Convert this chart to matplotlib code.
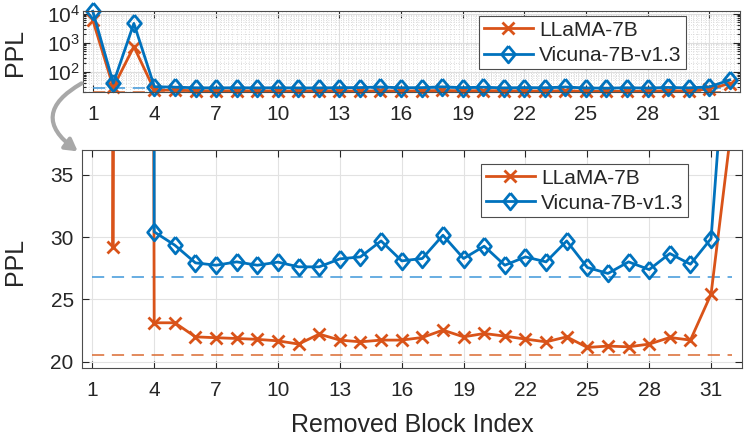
import numpy as np
import matplotlib
matplotlib.use("Agg")
import matplotlib.pyplot as plt
from matplotlib.ticker import MultipleLocator, LogLocator, FixedLocator, NullFormatter
from matplotlib.patches import FancyArrowPatch

plt.rcParams['font.family'] = ['Liberation Sans', 'DejaVu Sans']
plt.rcParams['mathtext.fontset'] = 'custom'
plt.rcParams['mathtext.rm'] = 'Liberation Sans'
plt.rcParams['text.color'] = '#262626'

# ---------------------------------------------- data
blocks = list(range(1, 33))
llama = [6000, 29.2, 730, 23.13, 23.13, 22.0, 21.93, 21.87, 21.8, 21.68, 21.42,
         22.22, 21.74, 21.6, 21.74, 21.74, 21.95, 22.54, 22.0, 22.27, 22.06,
         21.82, 21.6, 22.0, 21.15, 21.26, 21.2, 21.42, 21.95, 21.74, 25.43, 39]
vicuna = [12000, 40, 4600, 30.43, 29.36, 27.94, 27.75, 28.02, 27.75, 28.0, 27.62,
          27.62, 28.26, 28.42, 29.7, 28.1, 28.29, 30.16, 28.29, 29.28, 27.75,
          28.42, 28.02, 29.7, 27.57, 27.09, 28.02, 27.4, 28.69, 27.83, 29.89, 52]
llama_base = 20.53
vicuna_base = 26.82
names = ["LLaMA-7B", "Vicuna-7B-v1.3"]
xticks = list(range(1, 33, 3))

c_llama = '#D95319'
c_vicuna = '#0072BD'
c_llama_d = '#DA6A30'
c_vicuna_d = '#3E97DA'
ink = '#262626'
# matlab style diamond, a bit taller than wide
diamond = [(0, 1), (0.82, 0), (0, -1), (-0.82, 0), (0, 1)]

W, H = 747, 438
fig = plt.figure(figsize=(W / 100, H / 100), dpi=100)
ax1 = fig.add_axes([82.5 / W, 1 - 92 / H, (740 - 82.5) / W, (92 - 10.7) / H])
ax2 = fig.add_axes([82 / W, 1 - 368 / H, (742 - 82) / W, (368 - 150) / H])


def style(ax):
    for s in ax.spines.values():
        s.set_color('#4d4d4d')
        s.set_linewidth(0.8)
    ax.tick_params(which='both', direction='in', top=True, right=True,
                   colors=ink, labelsize=15, width=0.8)
    ax.tick_params(which='major', length=5)
    ax.tick_params(which='minor', length=2.5)
    ax.tick_params(axis='x', pad=9)
    ax.set_xlim(0.5, 32.5)
    ax.xaxis.set_major_locator(FixedLocator(xticks))
    ax.set_axisbelow(True)


def add_legend(ax, top):
    leg = ax.legend(loc='upper right', bbox_to_anchor=(0.918, top), fontsize=15,
                    handlelength=2.35, borderpad=0.22, labelspacing=0.3,
                    handletextpad=0.3, borderaxespad=0, fancybox=False,
                    framealpha=1, edgecolor='#4d4d4d')
    leg.get_frame().set_linewidth(0.8)


# ---------------------------------------------- top panel, log scale
style(ax1)
ax1.set_yscale('log')
ax1.set_ylim(20, 10 ** 4.1)
ax1.yaxis.set_major_locator(FixedLocator([1e2, 1e3, 1e4]))
ax1.set_yticklabels([r'$\mathregular{10^{2}}$', r'$\mathregular{10^{3}}$',
                     r'$\mathregular{10^{4}}$'])
ax1.yaxis.set_minor_locator(LogLocator(base=10, subs=np.arange(2, 10), numticks=20))
ax1.yaxis.set_minor_formatter(NullFormatter())
ax1.xaxis.set_minor_locator(MultipleLocator(0.2))
ax1.tick_params(axis='x', which='minor', length=0)
ax1.tick_params(axis='y', pad=2)
ax1.grid(which='major', color='#dedede', lw=0.8)
ax1.grid(which='minor', color='#d0d0d0', lw=0.6, ls=(0, (1, 2)))

ax1.plot([blocks[0], blocks[-1]], [llama_base] * 2, color=c_llama_d, lw=1.1, dashes=(8, 5))
ax1.plot([blocks[0], blocks[-1]], [vicuna_base] * 2, color=c_vicuna_d, lw=1.1, dashes=(8, 5))
ax1.plot(blocks, llama, color=c_llama, lw=2, marker='x', ms=9, mew=2,
         label=names[0], clip_on=False)
ax1.plot(blocks, vicuna, color=c_vicuna, lw=2, marker=diamond, ms=12, mew=2,
         mfc='none', label=names[1], clip_on=False)
add_legend(ax1, 0.935)

# ---------------------------------------------- bottom panel, zoomed in
style(ax2)
ax2.set_ylim(19.5, 37)
ax2.yaxis.set_major_locator(MultipleLocator(5))
ax2.tick_params(axis='y', pad=6)
ax2.grid(which='major', color='#e2e2e2', lw=0.8)

ax2.plot([blocks[0], blocks[-1]], [llama_base] * 2, color=c_llama_d, lw=1.1, dashes=(8, 5))
ax2.plot([blocks[0], blocks[-1]], [vicuna_base] * 2, color=c_vicuna_d, lw=1.1, dashes=(8, 5))
ax2.plot(blocks, llama, color=c_llama, lw=2, marker='x', ms=9, mew=2, label=names[0])
ax2.plot(blocks[2:], vicuna[2:], color=c_vicuna, lw=2, marker=diamond, ms=12, mew=2,
         mfc='none', label=names[1])
add_legend(ax2, 0.936)

fig.text(15 / W, 1 - 52 / H, 'PPL', rotation=90, ha='center', va='center', fontsize=18)
fig.text(15 / W, 1 - 261 / H, 'PPL', rotation=90, ha='center', va='center', fontsize=18)
fig.text(412 / W, 1 - 432 / H, 'Removed Block Index', ha='center', va='baseline', fontsize=18)

# curved grey arrow from the top panel down to the zoomed panel
arrow = FancyArrowPatch((84 / W, 1 - 82 / H), (80 / W, 1 - 153 / H),
                        transform=fig.transFigure, connectionstyle='arc3,rad=0.8',
                        arrowstyle='-|>,head_length=7,head_width=4',
                        color='#a8a8a8', lw=3, mutation_scale=1)
fig.patches.append(arrow)

fig.savefig('out.png', dpi=100)
